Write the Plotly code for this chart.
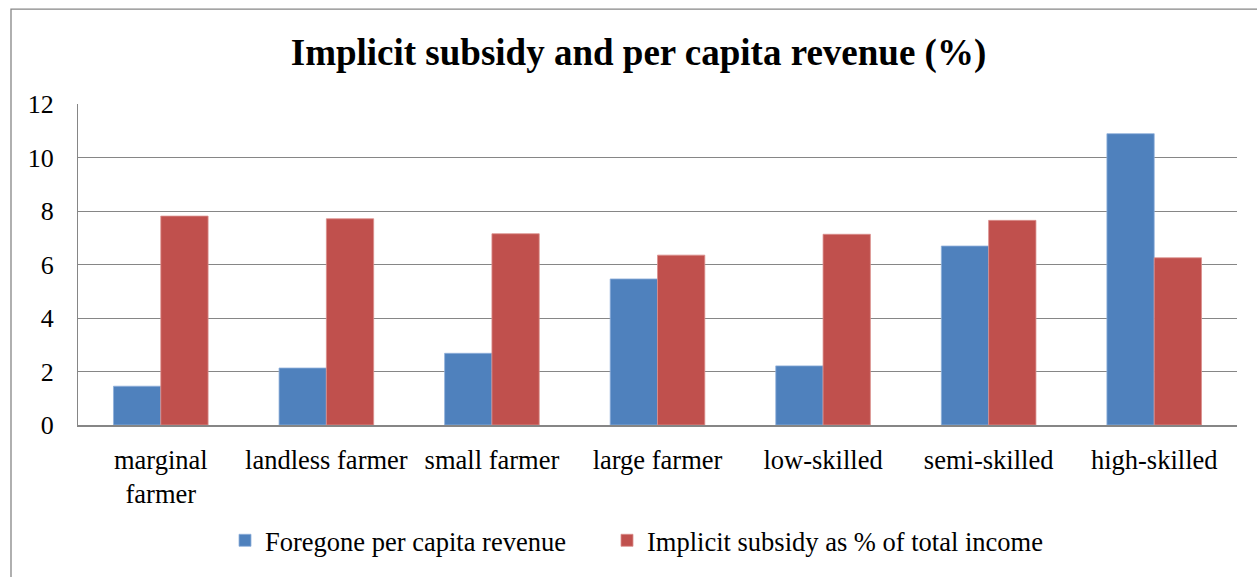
import plotly.graph_objects as go

categories = ["marginal<br>farmer", "landless farmer", "small farmer", "large farmer",
              "low-skilled", "semi-skilled", "high-skilled"]
foregone = [1.45, 2.13, 2.68, 5.46, 2.21, 6.69, 10.89]
subsidy = [7.81, 7.71, 7.15, 6.35, 7.13, 7.65, 6.25]
series_names = ["Foregone per capita revenue", "Implicit subsidy as % of total income"]
y_ticks = [0, 2, 4, 6, 8, 10, 12]

FONT = "Liberation Serif"
W, H = 1257, 577
L, R, T, B = 78, 20, 104, 148
pw, ph = W - L - R, H - T - B

def px(x):
    return (x - L) / pw

def py(y):
    return (H - B - y) / ph

fig = go.Figure()
fig.add_trace(go.Bar(x=categories, y=foregone, name=series_names[0], legend="legend",
                     marker=dict(color="#4F81BD", line=dict(color="#8FB0DA", width=0.8))))
fig.add_trace(go.Bar(x=categories, y=subsidy, name=series_names[1], legend="legend2",
                     marker=dict(color="#C0504D", line=dict(color="#DA8F8D", width=0.8))))

leg_common = dict(orientation="h", xanchor="left", yanchor="middle", y=py(546),
                  font=dict(family=FONT, size=26.5), bgcolor="rgba(0,0,0,0)")

fig.update_layout(
    width=W, height=H,
    margin=dict(l=L, r=R, t=T, b=B),
    paper_bgcolor="white", plot_bgcolor="white",
    barmode="group", bargap=1.5 / 3.5, bargroupgap=0,
    font=dict(family=FONT, size=26, color="black"),
    title=dict(text="<b>Implicit subsidy and per capita revenue (%)</b>",
               font=dict(family=FONT, size=37, color="black"),
               x=(638.5) / W, xanchor="center", y=1 - 52 / H, yanchor="middle"),
    showlegend=True,
    legend=dict(x=px(225), **leg_common),
    legend2=dict(x=px(607), **leg_common),
    xaxis=dict(showgrid=False, showline=True, linecolor="#868686", linewidth=1.5,
               ticks="", tickfont=dict(family=FONT, size=26.5), range=[-0.5, 6.5], tickangle=0,
               ticklabelstandoff=10),
    yaxis=dict(range=[0, 12], tickvals=y_ticks, showgrid=True, gridcolor="#868686", gridwidth=1.3,
               showline=True, linecolor="#868686", linewidth=1.3, ticks="",
               tickfont=dict(family=FONT, size=26), zeroline=False, ticklabelstandoff=18),
    shapes=[dict(type="rect", xref="paper", yref="paper",
                 x0=px(11), x1=px(1300), y0=py(600), y1=py(8),
                 line=dict(color="#868686", width=1.3), fillcolor="rgba(0,0,0,0)", layer="below")],
)

fig.write_html("out.html")
